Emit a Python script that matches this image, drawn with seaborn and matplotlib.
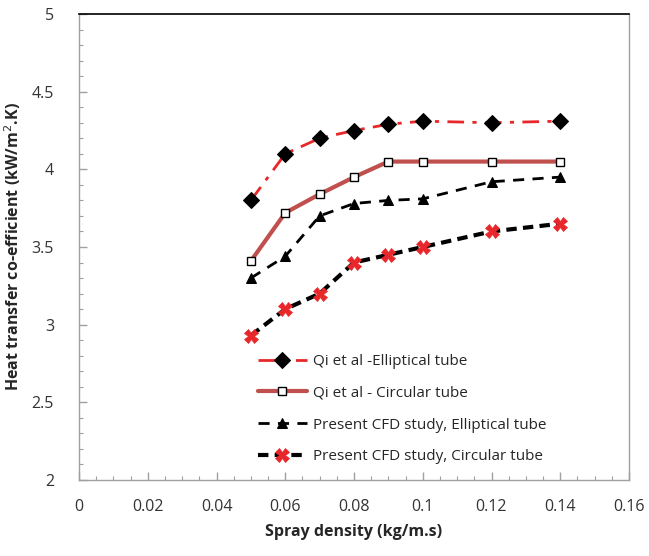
import matplotlib
matplotlib.use("Agg")
import matplotlib.pyplot as plt
import seaborn as sns
import pandas as pd
from matplotlib.ticker import MultipleLocator

spray = [0.05, 0.06, 0.07, 0.08, 0.09, 0.10, 0.12, 0.14]
qi_elliptical = [3.80, 4.10, 4.20, 4.25, 4.29, 4.31, 4.30, 4.31]
qi_circular = [3.41, 3.72, 3.84, 3.95, 4.05, 4.05, 4.05, 4.05]
cfd_elliptical = [3.30, 3.44, 3.70, 3.78, 3.80, 3.81, 3.92, 3.95]
cfd_circular = [2.93, 3.10, 3.20, 3.40, 3.45, 3.50, 3.60, 3.65]
labels = ["Qi et al -Elliptical tube", "Qi et al - Circular tube",
          "Present CFD study, Elliptical tube", "Present CFD study, Circular tube"]

sns.set_theme(style="white")
plt.rcParams['font.family'] = ['Open Sans', 'DejaVu Sans']

fig = plt.figure(figsize=(6.49, 5.56), dpi=100)
ax = fig.add_axes([79/649, 1-480/556, 550/649, 466/556])

sns.lineplot(x=spray, y=qi_elliptical, ax=ax, color="#e8272a", lw=2,
             dashes=False, linestyle=(0, (6, 3, 1.5, 3)), marker="D", markersize=8,
             markerfacecolor="black", markeredgecolor="black", label=labels[0])
sns.lineplot(x=spray, y=qi_circular, ax=ax, color="#c0504d", lw=3,
             marker="s", markersize=6, markerfacecolor="white",
             markeredgecolor="black", markeredgewidth=1, label=labels[1])
sns.lineplot(x=spray, y=cfd_elliptical, ax=ax, color="black", lw=2,
             linestyle=(0, (4, 3)), marker="^", markersize=7,
             markerfacecolor="black", markeredgecolor="black", label=labels[2])
sns.lineplot(x=spray, y=cfd_circular, ax=ax, color="black", lw=3,
             linestyle=(0, (2.5, 1.5)), marker="X", markersize=10,
             markerfacecolor="#e8272a", markeredgecolor="#e8272a", markeredgewidth=0.5,
             label=labels[3])

ax.set_xlim(0, 0.16)
ax.set_ylim(2, 5)
ax.xaxis.set_major_locator(MultipleLocator(0.02))
ax.xaxis.set_minor_locator(MultipleLocator(0.005))
ax.yaxis.set_major_locator(MultipleLocator(0.5))
ax.yaxis.set_minor_locator(MultipleLocator(0.1))
ax.set_xticks([0, 0.02, 0.04, 0.06, 0.08, 0.1, 0.12, 0.14, 0.16])
ax.set_xticklabels(["0", "0.02", "0.04", "0.06", "0.08", "0.1", "0.12", "0.14", "0.16"])
ax.set_yticks([2, 2.5, 3, 3.5, 4, 4.5, 5])
ax.set_yticklabels(["2", "2.5", "3", "3.5", "4", "4.5", "5"])

ax.tick_params(which="both", direction="in", color="#a0a0a0", labelsize=11.5,
               labelcolor="#333333", bottom=True, left=True, top=False, right=False)
ax.tick_params(which="major", length=6, width=1, pad=14)
ax.tick_params(which="minor", length=3, width=0.8)
ax.tick_params(axis="y", which="major", pad=18)

for s in ["left", "bottom", "right"]:
    ax.spines[s].set_color("#a0a0a0")
    ax.spines[s].set_linewidth(1)
ax.spines["top"].set_color("black")
ax.spines["top"].set_linewidth(1.2)

ax.set_xlabel("Spray density (kg/m.s)", fontsize=11.5, fontweight="bold", labelpad=6)
ax.set_ylabel("Heat transfer co-efficient (kW/m$^{2}$.K)", fontsize=11.5,
              fontweight="bold", labelpad=6)

ax.legend(loc="upper left", bbox_to_anchor=(0.3, 0.3), frameon=False,
          fontsize=11, labelspacing=1.1, handlelength=3.2, handletextpad=0.4)

fig.savefig("out.png", dpi=100)
